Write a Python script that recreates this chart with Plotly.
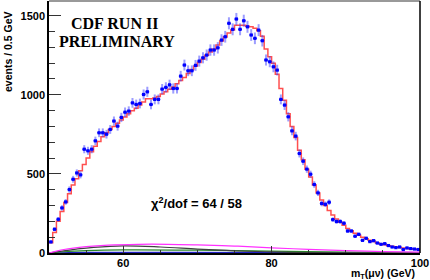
import numpy as np
import plotly.graph_objects as go

# ---- data ----
bin_low = 50.0
bin_width = 0.5
data_counts = [70,150,213,285,323,401,466,506,494,656,
               646,656,709,760,760,751,781,834,802,857,
               890,897,949,939,945,1002,1019,939,971,971,
               1036,1047,1063,1040,1040,1118,1188,1152,1152,1186,
               1213,1234,1251,1283,1283,1297,1346,1367,1452,1414,
               1479,1414,1468,1430,1378,1357,1409,1342,1220,1209,
               1177,1156,971,935,861,772,739,629,580,530,
               498,433,380,313,308,321,211,199,199,188,
               139,139,106,118,80,93,72,78,63,55,
               59,47,38,34,38,22,32,28,25,22]
fit_counts = [65,130,200,262,320,375,430,470,520,560,
              600,640,675,705,735,760,780,800,820,840,
              860,880,900,915,935,955,975,975,980,990,
              1005,1020,1035,1050,1070,1090,1110,1135,1160,1180,
              1205,1225,1250,1270,1290,1315,1340,1365,1390,1410,
              1440,1440,1440,1434,1430,1420,1405,1370,1290,1240,
              1200,1130,1040,965,880,800,730,650,590,530,
              480,430,380,335,300,268,240,215,195,175,
              155,140,125,112,100,90,80,72,64,58,
              52,46,42,38,34,31,28,26,24,22]

bg_magenta_x = [50, 52, 55, 58, 62, 66, 70, 75, 80, 85, 90, 95, 100]
bg_magenta_y = [0, 22, 40, 50, 55, 55, 51, 44, 33, 23, 15, 9, 5]
bg_black_x = [50, 53, 56, 60, 65, 70, 75, 80, 85, 90, 100]
bg_black_y = [0, 20, 35, 45, 38, 25, 14, 7, 3, 1, 0]
bg_green_x = [50, 52, 55, 60, 70, 80, 90, 100]
bg_green_y = [0, 8, 15, 20, 18, 12, 6, 3]
bg_blue_x = [50, 55, 70, 85, 100]
bg_blue_y = [0, 4, 4, 2, 1]

y_tickvals = [0, 500, 1000, 1500]
x_tickvals = [60, 80, 100]

# ---- derived ----
n = len(data_counts)
centers = bin_low + bin_width * (np.arange(n) + 0.5)
edges = bin_low + bin_width * np.arange(n + 1)
errs = np.sqrt(np.array(data_counts, dtype=float))

fig = go.Figure()

for xs, ys, col in [(bg_blue_x, bg_blue_y, '#2020c0'),
                    (bg_green_x, bg_green_y, '#2a8a2a'),
                    (bg_black_x, bg_black_y, '#404040'),
                    (bg_magenta_x, bg_magenta_y, '#ff30ff')]:
    fig.add_trace(go.Scatter(x=xs, y=ys, mode='lines', line=dict(color=col, width=1.2, shape='spline'),
                             hoverinfo='skip', showlegend=False))

fig.add_trace(go.Scatter(x=list(edges), y=list(fit_counts) + [fit_counts[-1]], mode='lines',
                         line=dict(color='rgba(255,60,60,0.9)', width=1.5, shape='hv'),
                         showlegend=False))

fig.add_trace(go.Scatter(x=centers, y=data_counts, mode='markers',
                         marker=dict(symbol='square', size=3.2, color='#0000ff'),
                         error_y=dict(type='data', array=errs, color='rgba(60,60,255,0.5)', thickness=2, width=0),
                         error_x=dict(type='constant', value=0.25, color='#0000ff', thickness=1.3, width=0),
                         showlegend=False))

W, H = 430, 280
ML, MR, MT, MB = 49, 10, 1, 27

def px(x, y):
    return (x - ML) / (W - ML - MR), 1 - (y - MT) / (H - MT - MB)

ann_specs = [
    ('CDF RUN II', 114, 23, dict(family='Liberation Serif', size=16, weight='bold'), 0),
    ('PRELIMINARY', 117, 41, dict(family='Liberation Serif', size=16, weight='bold'), 0),
    ('χ<sup>2</sup>/dof = 64 / 58', 196, 203, dict(family='Liberation Sans', size=13, weight='bold'), 0),
    ('events / 0.5 GeV', 8, 52, dict(family='Liberation Sans', size=10.5, weight='bold'), -90),
    ('m<sub>T</sub>(μν) (GeV)', 383, 274, dict(family='Liberation Sans', size=10.5, weight='bold'), 0),
]
annotations = []
for txt, x, y, f, ang in ann_specs:
    ax, ay = px(x, y)
    annotations.append(dict(text=txt, x=ax, y=ay, xref='paper', yref='paper', showarrow=False,
                            xanchor='center', yanchor='middle', textangle=ang, font=f))

fig.update_layout(
    width=W, height=H,
    margin=dict(l=ML, r=MR, t=MT, b=MB),
    paper_bgcolor='white', plot_bgcolor='white',
    font=dict(family='Liberation Sans, Arial, sans-serif', color='black'),
    xaxis=dict(range=[50, 100], tickvals=x_tickvals, ticks='inside', ticklen=7, tickwidth=1,
               tickcolor='#333', showgrid=False, zeroline=False, showline=True, linecolor='black',
               linewidth=1.5, tickfont=dict(size=11, family='Liberation Sans', weight='bold'),
               ticklabelstandoff=-1,
               minor=dict(dtick=5, ticks='inside', ticklen=3.5, tickcolor='#333')),
    yaxis=dict(range=[0, 1593], tickvals=y_tickvals, ticks='inside', ticklen=12, tickwidth=1,
               tickcolor='#333', showgrid=False, zeroline=False, showline=True, linecolor='black',
               linewidth=1.5, tickfont=dict(size=11, family='Liberation Sans', weight='bold'),
               minor=dict(dtick=100, ticks='inside', ticklen=6, tickcolor='#333')),
    shapes=[
        dict(type='line', xref='paper', yref='paper', x0=0, x1=1, y0=1, y1=1,
             line=dict(color='#999999', width=2)),
        dict(type='line', xref='paper', yref='paper', x0=1, x1=1, y0=0, y1=1,
             line=dict(color='black', width=1.5)),
    ],
    annotations=annotations,
)

fig.write_html('out.html', config={'displayModeBar': False},
               post_script="document.body.style.margin='0';document.body.style.overflow='hidden';")
